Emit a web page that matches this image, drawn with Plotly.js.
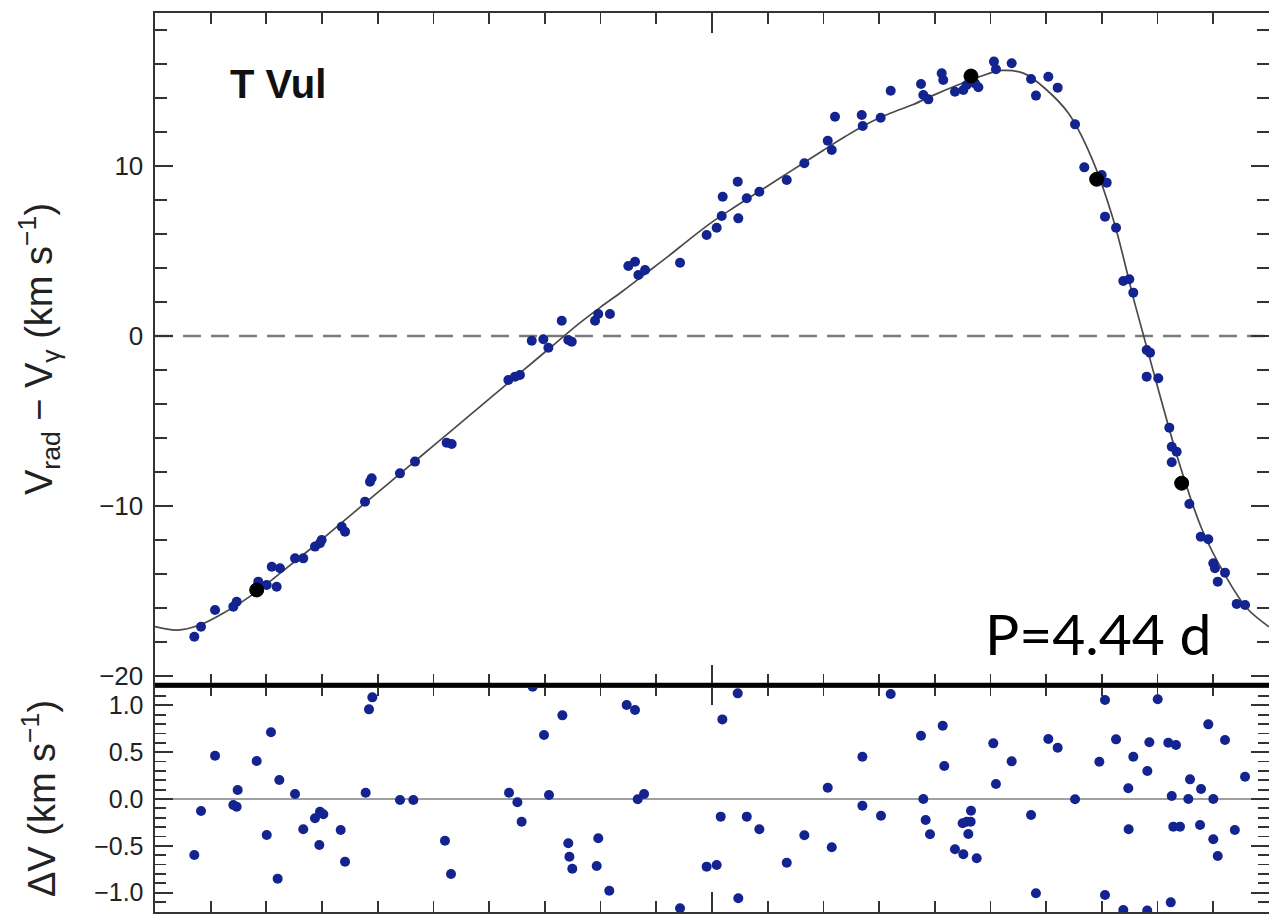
<!DOCTYPE html>
<html>
<head>
<meta charset="utf-8">
<script src="https://cdn.plot.ly/plotly-3.0.1.min.js"></script>
<style>html,body{margin:0;padding:0;background:#fff;}#plot{width:1269px;height:914px;}</style>
</head>
<body>
<div id="plot"></div>
<script>
// Observed radial velocities (phase, Vrad - Vgamma in km/s)
const phase_obs = [0.0353,0.0413,0.0539,0.0703,0.0733,0.0927,0.1048,0.1092,0.1003,0.1122,
  0.1257,0.1331,0.1436,0.1481,0.1496,0.1676,0.1706,0.1885,0.1930,0.1945,
  0.2199,0.2334,0.2618,0.2663,0.3172,0.3232,0.3276,0.3382,0.3486,0.3531,
  0.3651,0.3710,0.3741,0.3950,0.3979,0.4084,0.4249,0.4309,0.4339,0.4399,
  0.4713,0.4952,0.5042,0.5087,0.5096,0.5231,0.5236,0.5312,0.5425,0.5671,
  0.5829,0.6039,0.6075,0.6104,0.6344,0.6353,0.6514,0.6604,0.6876,0.6897,
  0.6942,0.7062,0.7076,0.7181,0.7256,0.7286,0.7361,0.7391,0.7531,0.7549,
  0.7690,0.7864,0.7908,0.8019,0.8103,0.8259,0.8342,0.8498,0.8543,0.8528,
  0.8627,0.8692,0.8746,0.8782,0.8902,0.8932,0.8902,0.9006,0.9105,0.9127,
  0.9171,0.9127,0.9285,0.9387,0.9455,0.9500,0.9515,0.9605,0.9540,0.9710,0.9785];
const vrad_obs = [-17.69,-17.10,-16.12,-15.92,-15.63,-14.45,-13.57,-14.75,-14.65,-13.66,
  -13.08,-13.08,-12.39,-12.19,-12.00,-11.22,-11.51,-9.75,-8.57,-8.37,
  -8.08,-7.39,-6.28,-6.35,-2.59,-2.39,-2.29,-0.28,-0.19,-0.69,
  0.90,-0.24,-0.34,0.90,1.29,1.29,4.12,4.37,3.59,3.88,
  4.31,5.94,6.37,7.06,8.19,9.08,6.92,8.10,8.49,9.18,
  10.16,11.49,10.94,12.90,13.00,12.35,12.84,14.43,14.82,14.18,
  13.92,15.45,15.06,14.37,14.47,14.76,14.86,14.63,16.14,15.69,
  16.04,15.12,14.14,15.25,14.61,12.45,9.92,9.47,9.02,7.02,
  6.37,3.24,3.34,2.55,-0.82,-0.98,-2.39,-2.49,-5.39,-6.51,
  -6.81,-7.43,-9.88,-11.81,-11.96,-13.37,-13.66,-13.92,-14.45,-15.76,-15.82];

// Reference (black) points
const phase_ref = [0.0913, 0.7325, 0.8453, 0.9216];
const vrad_ref = [-14.94, 15.29, 9.22, -8.66];

// Fitted curve
const phase_fit = [0.00,0.02,0.04,0.06,0.08,0.10,0.12,0.14,0.16,0.18,0.20,0.22,0.24,0.26,0.28,0.30,
  0.32,0.34,0.36,0.38,0.40,0.42,0.44,0.46,0.48,0.50,0.52,0.54,0.56,0.58,0.60,0.62,0.64,0.66,
  0.68,0.70,0.72,0.74,0.76,0.78,0.80,0.82,0.84,0.86,0.88,0.90,0.92,0.94,0.96,0.98,1.00];
const vrad_fit = [-17.1,-17.3,-17.0,-16.35,-15.55,-14.6,-13.55,-12.5,-11.4,-10.3,-9.2,-8.1,-7.0,-5.9,-4.8,-3.7,
  -2.6,-1.5,-0.4,0.7,1.7,2.65,3.65,4.65,5.7,6.7,7.57,8.41,9.25,10.09,10.93,11.75,12.5,13.1,
  13.6,14.2,14.75,15.25,15.62,15.45,14.5,13.1,10.6,6.9,1.8,-3.0,-7.6,-11.4,-14.0,-16.0,-17.1];

// Residuals
const phase_res = [0.0353,0.0413,0.0539,0.0703,0.0733,0.0742,0.0913,0.1003,0.1041,0.1116,
  0.1101,0.1257,0.1331,0.1436,0.1481,0.1511,0.1475,0.1667,0.1706,0.1891,
  0.1921,0.1951,0.2199,0.2319,0.2603,0.2657,0.3178,0.3253,0.3291,0.3390,
  0.3492,0.3537,0.3657,0.3710,0.3720,0.3746,0.3965,0.3979,0.4078,0.4234,
  0.4309,0.4333,0.4390,0.4713,0.4952,0.5042,0.5078,0.5093,0.5231,0.5236,
  0.5312,0.5425,0.5671,0.5829,0.6039,0.6075,0.6350,0.6350,0.6517,0.6604,
  0.6876,0.6897,0.6918,0.6957,0.7071,0.7085,0.7181,0.7256,0.7250,0.7286,
  0.7322,0.7325,0.7301,0.7376,0.7525,0.7549,0.7690,0.7864,0.7908,0.8019,
  0.8103,0.8259,0.8477,0.8528,0.8528,0.8627,0.8692,0.8737,0.8740,0.8782,
  0.8908,0.8926,0.9001,0.8907,0.9096,0.9165,0.9127,0.9141,0.9201,0.9118,
  0.9291,0.9276,0.9390,0.9381,0.9455,0.9500,0.9500,0.9540,0.9605,0.9693,0.9785];
const dv_res = [-0.598,-0.128,0.462,-0.064,-0.082,0.096,0.405,-0.384,0.712,0.203,
  -0.850,0.053,-0.323,-0.206,-0.135,-0.163,-0.491,-0.331,-0.669,0.067,
  0.957,1.085,-0.011,-0.011,-0.445,-0.800,0.067,-0.035,-0.242,1.198,
  0.683,0.043,0.893,-0.473,-0.616,-0.744,-0.715,-0.419,-0.979,1.003,
  0.950,-0.003,0.053,-1.166,-0.722,-0.704,-0.188,0.850,1.128,-1.060,
  -0.188,-0.323,-0.680,-0.387,0.121,-0.515,0.451,-0.071,-0.178,1.121,
  0.676,0.0,-0.224,-0.377,0.782,0.352,-0.537,-0.590,-0.259,-0.242,
  -0.242,-0.125,-0.373,-0.633,0.594,0.160,0.402,-0.171,-1.006,0.640,
  0.548,-0.003,0.398,1.057,-1.024,0.637,-1.185,0.114,-0.323,0.451,
  0.299,0.605,1.064,-1.19,0.601,0.576,0.032,-0.295,-0.295,-1.103,
  0.210,0.0,0.107,-0.277,0.797,0.0,-0.430,-0.608,0.630,-0.331,0.238];

const topTicks = [-20,-10,0,10];
const topTickText = ['\u221220','\u221210','0','10'];
const botTicks = [-1,-0.5,0,0.5,1];
const botTickText = ['\u22121.0','\u22120.5','0.0','0.5','1.0'];

const blue = '#13238f';
const axCol = '#333333';
const helv = 'Liberation Sans, Arial, Helvetica, sans-serif';

const traces = [
  {x: phase_fit, y: vrad_fit, xaxis:'x', yaxis:'y', mode:'lines',
   line:{color:'#4a4a4a', width:1.7, shape:'spline', smoothing:1}, hoverinfo:'skip'},
  {x: phase_obs, y: vrad_obs, xaxis:'x', yaxis:'y', mode:'markers',
   marker:{color:blue, size:10, line:{width:0}}},
  {x: phase_ref, y: vrad_ref, xaxis:'x', yaxis:'y', mode:'markers',
   marker:{color:'#000000', size:14, line:{color:'#000', width:1}}},
  {x: phase_res, y: dv_res, xaxis:'x2', yaxis:'y2', mode:'markers',
   marker:{color:blue, size:10, line:{width:0}}}
];

const xCommon = {
  range:[0,1], showline:true, linecolor:axCol, linewidth:2.5, mirror:'ticks',
  ticks:'inside', dtick:0.5, tick0:0, ticklen:20, tickwidth:2, tickcolor:axCol,
  minor:{dtick:0.05, tick0:0, ticklen:11, tickwidth:1.8, tickcolor:axCol, ticks:'inside'},
  showticklabels:false, showgrid:false, zeroline:false, fixedrange:true
};

const layout = {
  width:1269, height:914,
  margin:{l:155, r:0, t:13, b:2},
  paper_bgcolor:'#ffffff', plot_bgcolor:'#ffffff',
  showlegend:false,
  xaxis: Object.assign({}, xCommon, {anchor:'y'}),
  xaxis2: Object.assign({}, xCommon, {anchor:'y2', matches:'x'}),
  yaxis: {
    domain:[0.2525,1], range:[-20.53,19.0], anchor:'x',
    showline:true, linecolor:axCol, linewidth:2.5, mirror:'ticks',
    ticks:'inside', tickvals:topTicks, ticktext:topTickText, ticklen:18, tickwidth:2, tickcolor:axCol,
    minor:{dtick:2, tick0:0, ticklen:12, tickwidth:1.8, tickcolor:axCol, ticks:'inside'},
    tickfont:{family:helv, size:26, color:'#222'}, ticklabelstandoff:4,
    showgrid:false, zeroline:false, automargin:false,
    title:{text:'V<sub>rad</sub> \u2212 V<sub>\u03b3</sub> (km s<sup>\u22121</sup>)', font:{family:helv, size:38, color:'#222'}, standoff:35}
  },
  yaxis2: {
    domain:[0,0.2525], range:[-1.206,1.217], anchor:'x2',
    showline:true, linecolor:axCol, linewidth:2.5, mirror:'ticks',
    ticks:'inside', tickvals:botTicks, ticktext:botTickText, ticklen:18, tickwidth:2, tickcolor:axCol,
    minor:{dtick:0.1, tick0:0, ticklen:11, tickwidth:1.8, tickcolor:axCol, ticks:'inside'},
    tickfont:{family:helv, size:25, color:'#222'}, ticklabelstandoff:4,
    showgrid:false, zeroline:false, automargin:false,
    title:{text:'\u0394V (km s<sup>\u22121</sup>)', font:{family:helv, size:38, color:'#222'}, standoff:27}
  },
  shapes:[
    {type:'line', xref:'x domain', yref:'y', x0:0, x1:1, y0:0, y1:0, layer:'below',
     line:{color:'#7a7a7a', width:2.5, dash:'18px,10px'}},
    {type:'line', xref:'x2 domain', yref:'y2', x0:0, x1:1, y0:0, y1:0, layer:'below',
     line:{color:'#808080', width:1.6}},
    {type:'line', xref:'x domain', yref:'y domain', x0:0, x1:1, y0:0, y1:0, layer:'above',
     line:{color:'#000', width:4.5}}
  ],
  annotations:[
    {text:'<b>T Vul</b>', xref:'x', yref:'y', x:0.0655, y:14.85, xanchor:'left', yanchor:'middle',
     showarrow:false, font:{family:helv, size:40, color:'#111'}},
    {text:'P=4.44 d', xref:'x', yref:'y', x:0.743, y:-17.5, xanchor:'left', yanchor:'middle',
     showarrow:false, font:{family:'Lato, Noto Sans, sans-serif', size:57, color:'#000'}}
  ]
};

Plotly.newPlot('plot', traces, layout, {staticPlot:true, displayModeBar:false});
</script>
</body>
</html>
